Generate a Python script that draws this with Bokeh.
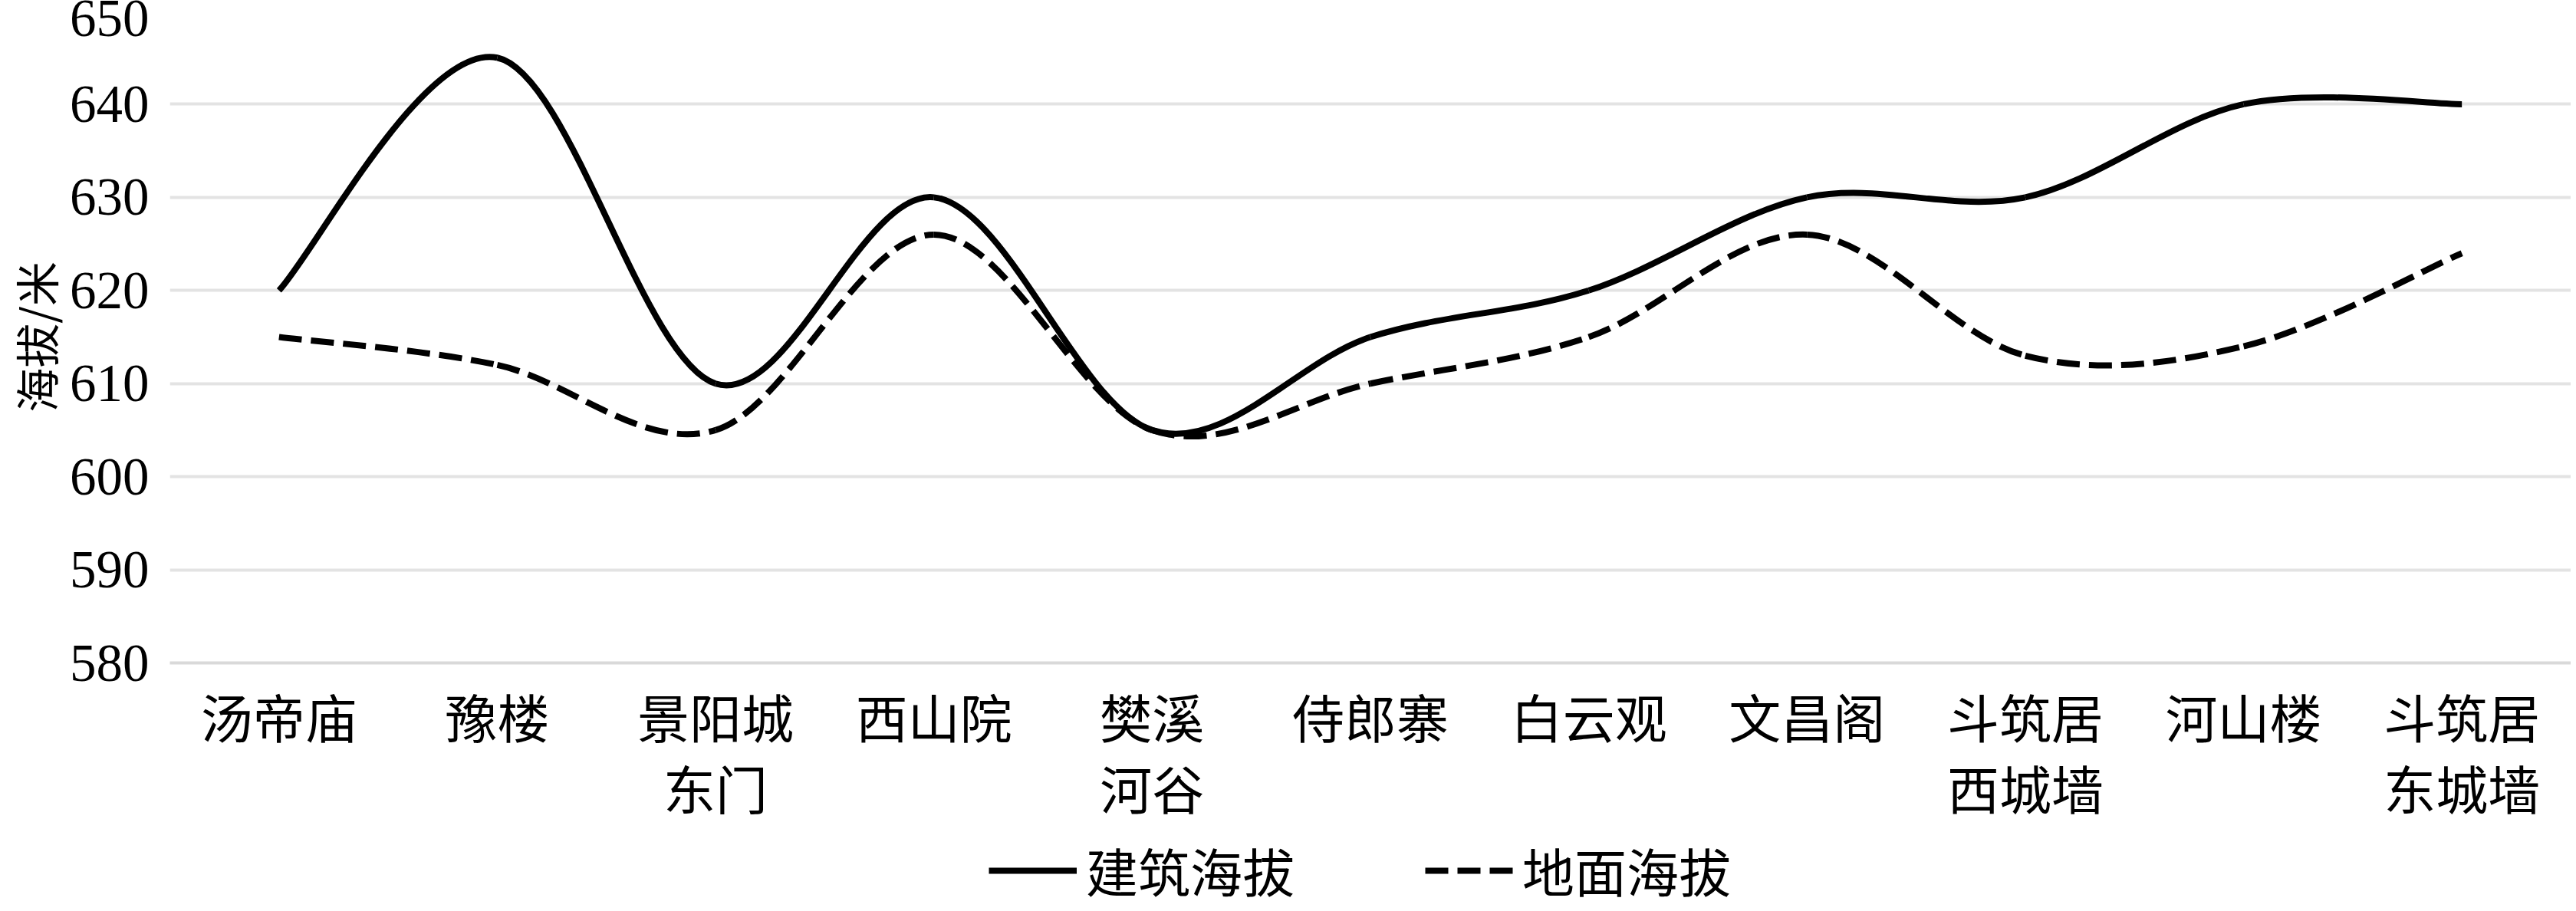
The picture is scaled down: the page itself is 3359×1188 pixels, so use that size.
from bokeh.plotting import figure
from bokeh.layouts import column
from bokeh.models import Range1d, FixedTicker, Legend, LegendItem, ColumnDataSource, LinearAxis
from bokeh.embed import file_html
from bokeh.resources import INLINE

# ---- data ----
categories = ["汤帝庙", "豫楼", "景阳城\n东门", "西山院", "樊溪\n河谷", "侍郎寨",
              "白云观", "文昌阁", "斗筑居\n西城墙", "河山楼", "斗筑居\n东城墙"]
building_alt = [620, 645, 610, 630, 605, 615, 620, 630, 630, 640, 640]
ground_alt = [615, 612, 605, 626, 605, 610, 615, 626, 613, 614, 624]
y_ticks = [580, 590, 600, 610, 620, 630, 640, 650]
series_names = ["建筑海拔", "地面海拔"]
y_title = "海拔/米"

CJK = "Noto Sans CJK SC"
SERIF = "Liberation Serif"
FS = "68px"

positions = list(range(len(categories)))
first_lines = {i: c.split("\n")[0] for i, c in enumerate(categories)}
second_lines = {i: c.split("\n")[1] for i, c in enumerate(categories) if "\n" in c}


def smooth_source(values):
    """Bezier control points (Catmull-Rom style smoothing, like a smoothed line chart)."""
    xs = positions
    n = len(values)
    d = dict(x0=[], y0=[], x1=[], y1=[], cx0=[], cy0=[], cx1=[], cy1=[])
    for i in range(n - 1):
        a = max(i - 1, 0)
        b = min(i + 2, n - 1)
        d["x0"].append(xs[i]); d["y0"].append(values[i])
        d["x1"].append(xs[i + 1]); d["y1"].append(values[i + 1])
        d["cx0"].append(xs[i] + (xs[i + 1] - xs[a]) / 6)
        d["cy0"].append(values[i] + (values[i + 1] - values[a]) / 6)
        d["cx1"].append(xs[i + 1] - (xs[b] - xs[i]) / 6)
        d["cy1"].append(values[i + 1] - (values[b] - values[i]) / 6)
    return ColumnDataSource(d)


def style_x_axis(ax, standoff):
    ax.axis_line_color = None
    ax.major_tick_line_color = None
    ax.minor_tick_line_color = None
    ax.major_tick_out = 0
    ax.major_tick_in = 0
    ax.major_label_standoff = standoff
    ax.major_label_text_font = CJK
    ax.major_label_text_font_size = FS
    ax.major_label_text_color = "black"


p = figure(frame_width=3131, frame_height=850,
           x_range=Range1d(-0.5, len(categories) - 0.5),
           y_range=Range1d(y_ticks[0], y_ticks[-1]),
           output_backend="svg", toolbar_location=None,
           min_border_left=212, min_border_right=0, min_border_top=14,
           min_border_bottom=0)
p.outline_line_color = None
p.background_fill_color = "white"
p.border_fill_color = "white"

p.bezier(x0="x0", y0="y0", x1="x1", y1="y1", cx0="cx0", cy0="cy0",
         cx1="cx1", cy1="cy1", source=smooth_source(building_alt),
         line_color="black", line_width=8)
p.bezier(x0="x0", y0="y0", x1="x1", y1="y1", cx0="cx0", cy0="cy0",
         cx1="cx1", cy1="cy1", source=smooth_source(ground_alt),
         line_color="black", line_width=8, line_dash="30 12")

# grid
p.xgrid.visible = False
p.ygrid.grid_line_color = "#e3e3e3"
p.ygrid.grid_line_width = 4

# y axis
p.yaxis.ticker = FixedTicker(ticks=y_ticks)
p.yaxis.axis_line_color = None
p.yaxis.major_tick_line_color = None
p.yaxis.minor_tick_line_color = None
p.yaxis.major_tick_out = 0
p.yaxis.major_label_standoff = 27
p.yaxis.major_label_text_font = SERIF
p.yaxis.major_label_text_font_size = "69px"
p.yaxis.major_label_text_color = "black"
p.yaxis.axis_label = y_title
p.yaxis.axis_label_text_font = CJK
p.yaxis.axis_label_text_font_size = "58px"
p.yaxis.axis_label_text_font_style = "normal"
p.yaxis.axis_label_text_color = "black"
p.yaxis.axis_label_standoff = 0

# x axis: first line of each category label
xa = p.xaxis[0]
xa.ticker = FixedTicker(ticks=list(first_lines.keys()))
xa.major_label_overrides = first_lines
style_x_axis(xa, 19)
xa.axis_line_color = "#d9d9d9"
xa.axis_line_width = 4

# second line of the two-line category labels
xa2 = LinearAxis(ticker=FixedTicker(ticks=list(second_lines.keys())),
                 major_label_overrides=second_lines)
style_x_axis(xa2, -9)
p.add_layout(xa2, "below")

# ---- legend strip below the chart (series drawn off-range, only their legend shows) ----
lg = figure(width=3343, height=106, x_range=Range1d(-0.5, len(categories) - 0.5),
            y_range=Range1d(0, 1), x_axis_location=None, y_axis_location=None,
            output_backend="svg", toolbar_location=None,
            min_border_left=0, min_border_right=0, min_border_top=0, min_border_bottom=0)
lg.grid.visible = False
lg.outline_line_color = None
l1 = lg.line(x=positions, y=building_alt, line_color="black", line_width=8)
l2 = lg.line(x=positions, y=ground_alt, line_color="black", line_width=8, line_dash="30 12")
legend = Legend(items=[LegendItem(label=series_names[0], renderers=[l1]),
                       LegendItem(label=series_names[1], renderers=[l2])],
                orientation="horizontal", location=(1068, 0),
                glyph_width=115, glyph_height=40, label_standoff=12, spacing=170,
                label_text_font=CJK, label_text_font_size=FS,
                label_text_color="black", border_line_color=None,
                background_fill_alpha=0, padding=0, margin=0)
lg.add_layout(legend, "center")

layout = column(p, lg, spacing=0)
open("out.html", "w").write(file_html(layout, INLINE))
